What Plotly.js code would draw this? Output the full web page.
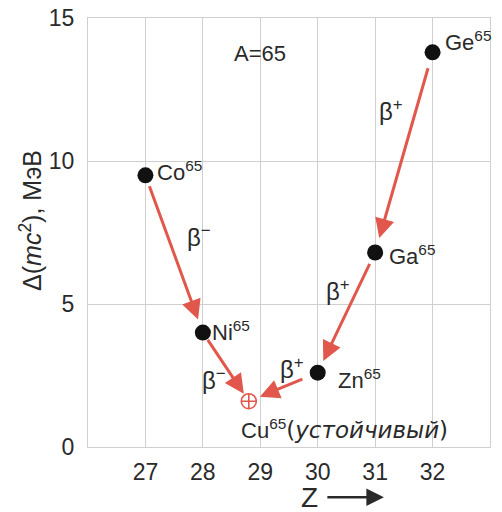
<!DOCTYPE html>
<html>
<head>
<meta charset="utf-8">
<script src="https://cdn.plot.ly/plotly-3.0.1.min.js"></script>
<style>html,body{margin:0;padding:0;background:#fff;}#chart{width:502px;height:512px;}</style>
</head>
<body>
<div id="chart"></div>
<script>
// ---- data ----
const isotopes = ['Co', 'Ni', 'Cu', 'Zn', 'Ga', 'Ge'];
const zValues = [27, 28, 28.8, 30, 31, 32];
const deltaValues = [9.5, 4.0, 1.6, 2.6, 6.8, 13.8];
const massNumber = 65;
const stableIndex = 2;
const stableNote = 'устойчивый';
const decayFrom = [0, 1, 5, 4, 3];
const decayTo = [1, 2, 4, 3, 2];
const decayType = ['β<sup>−</sup>', 'β<sup>−</sup>', 'β<sup>+</sup>', 'β<sup>+</sup>', 'β<sup>+</sup>'];
const xTicks = [27, 28, 29, 30, 31, 32];
const yTicks = [0, 5, 10, 15];

// ---- styling ----
const FONT = 'Liberation Sans, Arial, sans-serif';
const TXT = '#2a2a2a';
const RED = '#e2574c';
const GRID = '#cfcfcf';

const unstableIdx = isotopes.map((_, i) => i).filter(i => i !== stableIndex);

const traces = [
  {
    type: 'scatter', mode: 'markers',
    x: unstableIdx.map(i => zValues[i]),
    y: unstableIdx.map(i => deltaValues[i]),
    marker: {size: 16, color: '#111'},
    hoverinfo: 'skip', showlegend: false
  },
  {
    type: 'scatter', mode: 'markers',
    x: [zValues[stableIndex]], y: [deltaValues[stableIndex]],
    marker: {size: 15, color: RED, symbol: 'circle-cross-open', line: {width: 1.6, color: RED}},
    hoverinfo: 'skip', showlegend: false
  }
];

// arrows
const arrowStand = [[10, 14], [7, 9], [15, 15], [11, 13], [15, 12]];
const annotations = [];
decayFrom.forEach((f, k) => {
  const t = decayTo[k];
  annotations.push({
    x: zValues[t], y: deltaValues[t], ax: zValues[f], ay: deltaValues[f],
    xref: 'x', yref: 'y', axref: 'x', ayref: 'y',
    showarrow: true, arrowhead: 2, arrowsize: 1.3, arrowwidth: 3, arrowcolor: RED,
    startstandoff: arrowStand[k][0], standoff: arrowStand[k][1], text: ''
  });
});

// decay type labels (pixel offsets from arrow midpoints)
const labelShift = [[25, 18], [-12, -12], [-13, 42], [-8, 23], [9, 19]];
decayFrom.forEach((f, k) => {
  const t = decayTo[k];
  annotations.push({
    x: (zValues[f] + zValues[t]) / 2, y: (deltaValues[f] + deltaValues[t]) / 2,
    xref: 'x', yref: 'y', showarrow: false,
    text: decayType[k], font: {family: FONT, size: 24, color: TXT},
    xshift: labelShift[k][0], yshift: labelShift[k][1]
  });
});

// isotope labels
const isoShift = {0: [10, 4], 1: [7, 2], 3: [18, -6], 4: [12, -2], 5: [10, 11]};
isotopes.forEach((name, i) => {
  if (i === stableIndex) return;
  annotations.push({
    x: zValues[i], y: deltaValues[i], xref: 'x', yref: 'y', showarrow: false,
    xanchor: 'left', text: name + '<sup>' + massNumber + '</sup>',
    font: {family: FONT, size: 22, color: TXT},
    xshift: isoShift[i][0], yshift: isoShift[i][1]
  });
});
annotations.push({
  x: zValues[stableIndex], y: deltaValues[stableIndex], xref: 'x', yref: 'y', showarrow: false,
  xanchor: 'left',
  text: isotopes[stableIndex] + '<sup>' + massNumber + '</sup><span style="font-family:DejaVu Sans;font-size:23px">(<i>' + stableNote + '</i>)</span>',
  font: {family: FONT, size: 22, color: TXT}, xshift: -10, yshift: -28
});
annotations.push({
  x: 0.428, y: 0.918, xref: 'paper', yref: 'paper', showarrow: false,
  xanchor: 'center', yanchor: 'middle',
  text: 'A=' + massNumber, font: {family: FONT, size: 22, color: TXT}
});
// y-axis title
annotations.push({
  x: -0.142, y: 0.529, xref: 'paper', yref: 'paper', showarrow: false,
  xanchor: 'center', yanchor: 'middle', textangle: -90,
  text: 'Δ(<i>mc</i><sup>2</sup>), МэВ', font: {family: FONT, size: 25, color: TXT}
});
// x-axis title: "Z" with arrow
annotations.push({
  x: 0.55, y: -0.117, xref: 'paper', yref: 'paper', showarrow: false,
  xanchor: 'center', yanchor: 'middle',
  text: 'Z', font: {family: FONT, size: 28, color: TXT}
});
annotations.push({
  x: 0.736, y: -0.117, xref: 'paper', yref: 'paper', ax: -58, ay: 0, text: '',
  showarrow: true, arrowhead: 2, arrowsize: 1.4, arrowwidth: 2.5, arrowcolor: TXT
});

const layout = {
  width: 502, height: 512,
  margin: {l: 88, r: 12, t: 18, b: 65},
  paper_bgcolor: '#fff', plot_bgcolor: '#fff',
  font: {family: FONT, color: TXT},
  showlegend: false,
  xaxis: {
    range: [26, 33], tickvals: xTicks, ticks: '', showgrid: true, gridcolor: GRID, gridwidth: 1,
    zeroline: false, showline: true, linecolor: GRID, linewidth: 1, mirror: true,
    tickfont: {family: FONT, size: 23, color: TXT}, ticklabelstandoff: 4
  },
  yaxis: {
    range: [0, 15], tickvals: yTicks, ticks: '', showgrid: true, gridcolor: GRID, gridwidth: 1,
    zeroline: false, showline: true, linecolor: GRID, linewidth: 1, mirror: true,
    tickfont: {family: FONT, size: 23, color: TXT}, ticklabelstandoff: 8
  },
  annotations: annotations
};

Plotly.newPlot('chart', traces, layout, {displayModeBar: false, staticPlot: true});
</script>
</body>
</html>
